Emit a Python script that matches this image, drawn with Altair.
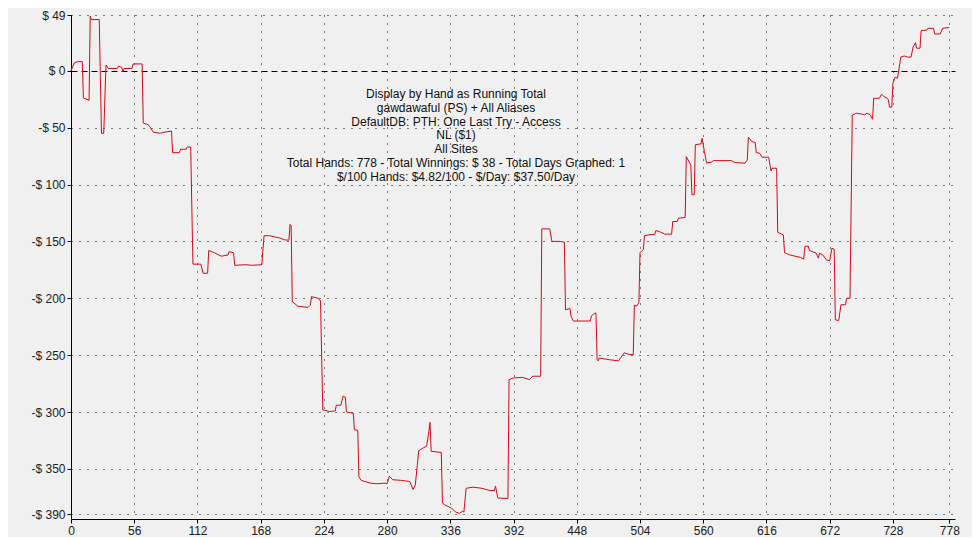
import altair as alt
import pandas as pd

hands = [0, 3, 6, 10, 11, 16, 17, 18, 25, 26, 27, 29, 31, 33, 41, 42, 45, 46, 47, 54, 55, 63,
         64, 67, 69, 73, 79, 83, 89, 90, 96, 97, 102, 103, 106, 108, 115, 117, 121, 122, 127,
         133, 139, 140, 144, 145, 155, 160, 169, 171, 176, 180, 185, 189, 193, 194, 195, 196,
         201, 210, 212, 213, 219, 220, 221, 223, 229, 234, 235, 239, 241, 243, 244, 250, 251,
         254, 255, 257, 265, 271, 278, 280, 282, 285, 292, 300, 303, 305, 308, 312, 315, 317,
         318, 319, 328, 329, 331, 337, 341, 344, 347, 348, 350, 356, 364, 371, 375, 376, 378,
         387, 388, 392, 400, 406, 409, 416, 417, 424, 426, 433, 437, 438, 442, 443, 445, 460,
         461, 464, 465, 466, 467, 468, 477, 485, 487, 490, 495, 498, 499, 501, 503, 504, 507,
         508, 513, 517, 518, 521, 526, 532, 533, 537, 538, 544, 545, 548, 549, 550, 552, 553,
         558, 559, 561, 563, 567, 569, 585, 588, 597, 599, 600, 603, 606, 607, 610, 612, 618,
         620, 621, 625, 626, 631, 632, 637, 646, 649, 650, 653, 654, 660, 662, 663, 666, 669,
         672, 674, 676, 677, 680, 682, 686, 687, 690, 692, 696, 700, 703, 705, 708, 710, 711,
         716, 718, 720, 723, 724, 725, 727, 728, 730, 732, 733, 735, 738, 741, 744, 746, 748,
         749, 752, 753, 758, 759, 764, 765, 770, 772, 778]
totals = [0, 7, 8, 8, -24, -26, 48, 45, 45, -5, -55, -55, 5, 2, 2, 4, 3, -1, 2, 2, 6, 6,
          -46, -47, -48, -54, -55, -54, -53, -72, -72, -69, -69, -67, -67, -170, -170, -178,
          -178, -158, -160, -163, -162, -159, -160, -171, -170.5, -171, -170.5, -145, -145,
          -146, -147, -148.6, -149, -135, -136, -203, -207, -208, -206, -198.5, -200, -201.5,
          -202, -298, -299.5, -299, -294, -294, -286, -287, -300, -301, -315.5, -316, -357,
          -360, -362.5, -363, -362.5, -363, -356.5, -359.5, -360, -361, -368, -364, -334,
          -331.5, -330, -317, -309, -334.5, -335.5, -380, -381.5, -384.5, -388, -389, -387,
          -388, -367, -366, -367, -369, -369, -365, -375.5, -376, -271.5, -270, -269.5,
          -271.5, -268.5, -268.5, -139, -139, -150, -150, -150.7, -210, -209, -216, -220,
          -220, -215.5, -213, -213, -254, -255, -252.5, -254, -255, -252, -248, -249.5,
          -249.5, -206, -207, -204, -160, -157, -145, -144, -144, -140.5, -141.3, -143.6,
          -143.6, -132.5, -132.5, -129.6, -129, -75.5, -81, -83, -109, -109, -65, -64.3,
          -59.3, -71, -81, -80.5, -79, -79, -80.7, -81.3, -78.4, -58.4, -62.3, -63, -72,
          -72.5, -76, -76, -88, -85.7, -85.7, -142, -144.3, -160, -162, -164, -165.6, -154.5,
          -154, -158, -160.3, -164.7, -160.3, -162, -166.2, -167, -156, -157, -219, -219.5,
          -205.7, -205.7, -200, -200, -39, -37.3, -38, -38.8, -37.3, -38.8, -42.6, -24.2,
          -24.2, -20.6, -22.7, -24.2, -25.7, -32, -32, -11, -5.7, -6.6, -1, 12, 13, 12, 12,
          21, 24.7, 19.8, 19.8, 35.2, 35.8, 37.3, 37.3, 32.3, 32.3, 37.3, 38]

x_ticks = [0, 56, 112, 168, 224, 280, 336, 392, 448, 504, 560, 616, 672, 728, 778]
y_ticks = [49, 0, -50, -100, -150, -200, -250, -300, -350, -390]

info_lines = [
    "Display by Hand as Running Total",
    "gawdawaful (PS) + All Aliases",
    "DefaultDB: PTH: One Last Try - Access",
    "NL ($1)",
    "All Sites",
    "Total Hands: 778 - Total Winnings: $ 38 - Total Days Graphed: 1",
    "$/100 Hands: $4.82/100 - $/Day: $37.50/Day",
]

df = pd.DataFrame({"hand": hands, "total": totals})
info_df = pd.DataFrame({"label": [0]})

FONT = "Liberation Sans"

x_enc = alt.X(
    "hand:Q",
    scale=alt.Scale(domain=[0, 783], nice=False, zero=False),
    axis=alt.Axis(
        values=x_ticks, title=None, labelFont=FONT, labelFontSize=12, labelColor="#222222",
        domainColor="black", tickColor="black", tickSize=4, labelPadding=2,
        grid=True, gridColor="black", gridDash=[1, 7], gridOpacity=1, labelFlush=False,
    ),
)
y_enc = alt.Y(
    "total:Q",
    scale=alt.Scale(domain=[-394, 49], nice=False, zero=False),
    axis=alt.Axis(
        values=y_ticks, title=None, labelFont=FONT, labelFontSize=12, labelColor="#222222",
        labelExpr="datum.value < 0 ? '-$ ' + (-datum.value) : '$ ' + datum.value",
        domainColor="black", tickColor="black", tickSize=4, labelPadding=2,
        grid=True, gridColor="black", gridOpacity=1,
        gridDash={"condition": {"test": "datum.value === 0", "value": [6, 4]}, "value": [1, 7]},
        labelFlush=False,
    ),
)

line = alt.Chart(df).mark_line(color="#D40A14", strokeWidth=1, interpolate="linear").encode(
    x=x_enc, y=y_enc
)

info = alt.Chart(info_df).mark_text(
    text=info_lines, font=FONT, fontSize=12, color="#111111", align="center",
    baseline="top", lineHeight=13.8,
).encode(x=alt.value(385), y=alt.value(74))

chart = alt.layer(line, info).properties(
    width=884, height=504,
    background="#F0F0F0",
    autosize=alt.AutoSizeParams(type="none"),
    padding={"left": 63, "top": 7, "right": 17, "bottom": 18},
).configure_view(stroke=None)

chart.save("out.html", embed_options={"renderer": "svg", "actions": False})
